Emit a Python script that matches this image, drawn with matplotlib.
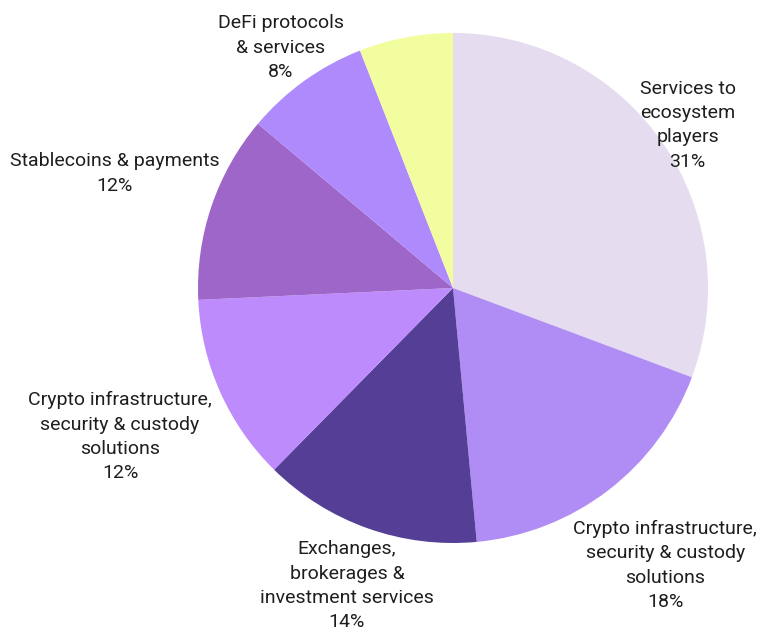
import numpy as np
import matplotlib.pyplot as plt

plt.rcParams['font.family'] = ['Roboto', 'DejaVu Sans']

# Share of companies by segment (clockwise from 12 o'clock)
segments = [
    "Services to\necosystem\nplayers",
    "Crypto infrastructure,\nsecurity & custody\nsolutions",
    "Exchanges,\nbrokerages &\ninvestment services",
    "Crypto infrastructure,\nsecurity & custody\nsolutions",
    "Stablecoins & payments",
    "DeFi protocols\n& services",
    "",
]
shares = [31, 18, 14, 12, 12, 8, 6]
show_pct = [True, True, True, True, True, True, False]
colors = ["#E5DCF0", "#AF8DF4", "#553F96", "#BE8BFD", "#9F66C9", "#AF8AFD", "#F2FDA0"]
# how far each label sits from the centre, in pie radii
label_dist = [1.12, 1.37, 1.24, 1.43, 1.40, 1.16, 1.2]

fig = plt.figure(figsize=(7.6, 6.28), dpi=100)
ax = fig.add_axes([0, 0, 1, 1])

wedges, _ = ax.pie(shares, colors=colors, startangle=90, counterclock=False,
                   radius=1.0, wedgeprops=dict(linewidth=0))

for w, name, val, show, d in zip(wedges, segments, shares, show_pct, label_dist):
    if not show:
        continue
    mid = np.deg2rad((w.theta1 + w.theta2) / 2)
    x, y = d * np.cos(mid), d * np.sin(mid)
    ax.text(x, y, f"{name}\n{val}%", ha="center", va="center", fontsize=14,
            color="#1e1e1e", linespacing=1.45)

ax.set_xlim(-453 / 255, (760 - 453) / 255)
ax.set_ylim(-340 / 255, 288 / 255)
ax.set_aspect("equal")
ax.axis("off")

fig.savefig("out.png", dpi=100)
